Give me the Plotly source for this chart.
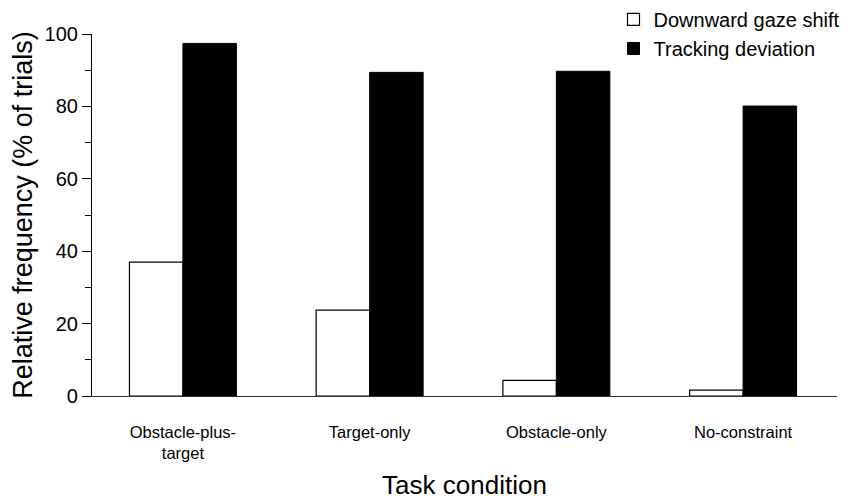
import plotly.graph_objects as go

categories = ["Obstacle-plus-<br>target", "Target-only", "Obstacle-only", "No-constraint"]
downward_gaze_shift = [37.0, 23.7, 4.3, 1.6]
tracking_deviation = [97.4, 89.4, 89.7, 80.1]
y_ticks = [0, 20, 40, 60, 80, 100]

FONT = "Liberation Sans, Arial, sans-serif"

fig = go.Figure()
fig.add_trace(go.Bar(
    x=categories, y=downward_gaze_shift, name="Downward gaze shift",
    marker=dict(color="white", line=dict(color="black", width=1.2)),
))
fig.add_trace(go.Bar(
    x=categories, y=tracking_deviation, name="Tracking deviation",
    marker=dict(color="black", line=dict(color="black", width=1)),
))

fig.update_layout(
    width=863, height=504,
    margin=dict(l=84, r=34, t=26, b=116, autoexpand=False),
    plot_bgcolor="white", paper_bgcolor="white",
    barmode="group", bargap=0.427, bargroupgap=0,
    font=dict(family=FONT, color="black"),
    showlegend=True,
    legend=dict(
        x=0.700, xanchor="left", y=1.094, yanchor="top",
        font=dict(size=20, family=FONT), itemwidth=30,
        bgcolor="rgba(0,0,0,0)", borderwidth=0, traceorder="normal",
        tracegroupgap=0,
    ),
)
fig.update_xaxes(
    range=[-0.487, 3.503], showline=True, linecolor="#333", linewidth=1.2,
    ticks="", showgrid=False, zeroline=False, automargin=False,
    tickfont=dict(size=16.5, family=FONT), ticklabelstandoff=21,
    title=dict(text="Task condition", font=dict(size=26, family=FONT), standoff=14),
)
fig.update_yaxes(
    range=[0, 100], showline=True, linecolor="black", linewidth=1.2,
    ticks="outside", ticklen=9, tickwidth=1.2, tickcolor="black",
    tickvals=y_ticks, ticktext=[str(v) for v in y_ticks],
    minor=dict(ticks="outside", ticklen=6, dtick=10, tickwidth=1.2, tickcolor="black"),
    showgrid=False, zeroline=False, automargin=False,
    tickfont=dict(size=20, family=FONT),
    title=dict(text="Relative frequency (% of trials)", font=dict(size=27, family=FONT), standoff=4),
)

fig.write_html("out.html")
